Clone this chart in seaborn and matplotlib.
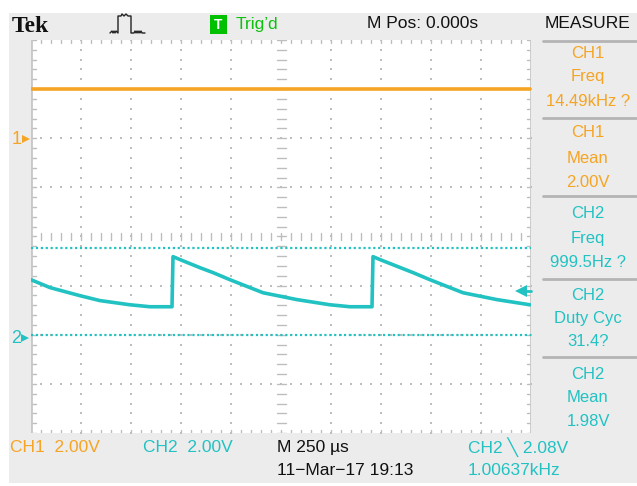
import matplotlib
matplotlib.use("Agg")
import matplotlib.pyplot as plt
import seaborn as sns
import numpy as np
import pandas as pd
from matplotlib.patches import Rectangle

# ---------------- data ----------------
time_per_div_us = 250.0
volts_per_div = 2.0
ch1_offset_div = 2.0
ch2_offset_div = -2.0

ch1_time_us = [-1250, 1250]
ch1_volts = [2.00, 2.00]

ch2_time_us = [-1250, -1155, -1005, -905, -755, -655, -545, -540, -505, -405, -340,
               -255, -90, 80, 245, 345, 455, 460, 495, 660, 745, 910, 1080, 1245]
ch2_volts = [2.24, 1.92, 1.59, 1.39, 1.22, 1.14, 1.14, 3.18, 3.06, 2.73, 2.53,
             2.24, 1.71, 1.43, 1.22, 1.14, 1.14, 3.18, 3.06, 2.53, 2.24, 1.71, 1.43, 1.22]

ch2_ref_levels_v = [0.0, 3.55]

measure_channels = ["CH1", "CH1", "CH2", "CH2", "CH2"]
measure_names = ["Freq", "Mean", "Freq", "Duty Cyc", "Mean"]
measure_values = ["14.49kHz ?", "2.00V", "999.5Hz ?", "31.4?", "1.98V"]

ORANGE = "#F6A423"
CYAN = "#22C2C3"
GRAY_BG = "#ECECEC"
GRID = "#BDBDBD"
SANS = ["Liberation Sans", "DejaVu Sans"]

# ---------------- figure ----------------
sns.set_theme(style="white")
plt.rcParams["font.family"] = SANS

W, H = 637, 486
fig = plt.figure(figsize=(W / 100, H / 100), dpi=100)
fig.patch.set_facecolor("white")

bg = fig.add_axes([0, 0, 1, 1], zorder=0)
bg.set_xlim(0, W)
bg.set_ylim(H, 0)
bg.axis("off")
bg.add_patch(Rectangle((9, 13), W - 9, 470, facecolor=GRAY_BG, edgecolor="none"))

# graticule axes
gx0, gx1, gy0, gy1 = 31, 531, 40, 433
ax = fig.add_axes([gx0 / W, (H - gy1) / H, (gx1 - gx0) / W, (gy1 - gy0) / H], zorder=2)
ax.set_facecolor("white")
ax.set_xlim(-5, 5)
ax.set_ylim(-4, 4)
for s in ax.spines.values():
    s.set_visible(False)
ax.set_xticks([])
ax.set_yticks([])

# dotted grid
minor_x = np.arange(-5, 5.001, 0.2)
minor_y = np.arange(-4, 4.001, 0.2)
for xv in range(-4, 5):
    if xv == 0:
        continue
    ax.plot([xv] * len(minor_y), minor_y, ls="none", marker="s", ms=1.6, color=GRID, mew=0)
for yv in range(-3, 4):
    if yv == 0:
        continue
    ax.plot(minor_x, [yv] * len(minor_x), ls="none", marker="s", ms=1.6, color=GRID, mew=0)
# center axes ticks
for xv in minor_x:
    ax.plot([xv, xv], [-0.07, 0.07], color=GRID, lw=1)
for yv in minor_y:
    ax.plot([-0.09, 0.09], [yv, yv], color=GRID, lw=1)
# edge ticks
for xv in minor_x:
    ax.plot([xv, xv], [4, 3.93], color=GRID, lw=1)
    ax.plot([xv, xv], [-4, -3.93], color=GRID, lw=1)
for yv in minor_y:
    ax.plot([-5, -4.91], [yv, yv], color=GRID, lw=1)
    ax.plot([5, 4.91], [yv, yv], color=GRID, lw=1)
ax.plot([-5, -5], [-4, 4], color="#C8C8C8", lw=2)
ax.plot([5, 5], [-4, 4], color="#C8C8C8", lw=2)

# reference dotted lines for CH2
for lv in ch2_ref_levels_v:
    yd = lv / volts_per_div + ch2_offset_div
    ax.plot([-5, 5], [yd, yd], color=CYAN, lw=1.6, ls=(0, (1, 1.2)))

# traces
df1 = pd.DataFrame({"x": np.array(ch1_time_us) / time_per_div_us,
                    "y": np.array(ch1_volts) / volts_per_div + ch1_offset_div})
df2 = pd.DataFrame({"x": np.array(ch2_time_us) / time_per_div_us,
                    "y": np.array(ch2_volts) / volts_per_div + ch2_offset_div})
sns.lineplot(data=df1, x="x", y="y", ax=ax, color=ORANGE, lw=2.6, sort=False, estimator=None)
sns.lineplot(data=df2, x="x", y="y", ax=ax, color=CYAN, lw=2.6, sort=False, estimator=None)
ax.set_xlabel("")
ax.set_ylabel("")
ax.set_xlim(-5, 5)
ax.set_ylim(-4, 4)

# trigger level arrow (right)
ax.plot([4.8, 5.0], [-1.1, -1.1], color=CYAN, lw=2, clip_on=False)
ax.plot([4.8], [-1.1], marker="<", ms=8, color=CYAN, mew=0, clip_on=False)

# trigger position arrow (top)
bg.plot([281, 281], [41, 48], color="black", lw=2.2, zorder=5)
bg.plot([281], [49], marker="v", ms=7, color="black", mew=0, zorder=5)

# channel markers
bg.text(17, 139, "1", color=ORANGE, fontsize=13, ha="center", va="center")
bg.plot([26], [139], marker=">", ms=6, color=ORANGE, mew=0)
bg.text(16, 338, "2", color=CYAN, fontsize=13, ha="center", va="center")
bg.plot([25], [338], marker=">", ms=6, color=CYAN, mew=0)

# header
bg.text(12, 26, "Tek", fontsize=17, fontweight="bold", family=["Liberation Serif", "DejaVu Serif"],
        ha="left", va="center", color="#111111")
px = [110, 112, 113, 114, 115, 116, 118, 118, 121, 122, 124, 126, 128, 131, 131, 134, 135, 136, 137, 138, 139, 140, 141, 142, 145]
py = [33, 31, 33, 31, 33, 31, 33, 16, 16, 14, 16, 14, 16, 16, 33, 33, 31, 33, 31, 33, 31, 33, 31, 33, 33]
bg.plot(px, py, color="#222222", lw=1)
bg.add_patch(Rectangle((210, 15), 17, 19, facecolor="#00C000", edgecolor="none"))
bg.text(218.5, 25, "T", color="white", fontsize=10, fontweight="bold", ha="center", va="center")
bg.text(236, 24, "Trig\u2019d", color="#10C010", fontsize=12.5, ha="left", va="center")
bg.text(423, 24, "M Pos: 0.000s", color="#111111", fontsize=12.5, ha="center", va="center")
bg.text(588, 24, "MEASURE", color="#111111", fontsize=12.5, ha="center", va="center")

# measure panel
seps = [41, 118, 196, 279, 357]
for sy in seps:
    bg.plot([543, 636], [sy, sy], color="#B4B4B4", lw=2)
rows = [(54, 77, 101), (132, 158, 182), (213, 238, 262), (295, 318, 341), (374, 397, 421)]
for ch, nm, val, (y1, y2, y3) in zip(measure_channels, measure_names, measure_values, rows):
    c = ORANGE if ch == "CH1" else CYAN
    bg.text(588, y1, ch, color=c, fontsize=12, ha="center", va="center")
    bg.text(588, y2, nm, color=c, fontsize=12, ha="center", va="center")
    bg.text(588, y3, val, color=c, fontsize=12, ha="center", va="center")

# bottom info
bg.text(10, 447, "CH1  2.00V", color=ORANGE, fontsize=12.5, ha="left", va="center")
bg.text(143, 447, "CH2  2.00V", color=CYAN, fontsize=12.5, ha="left", va="center")
bg.text(277, 447, "M 250 \u00b5s", color="#111111", fontsize=12.5, ha="left", va="center")
bg.text(277, 470, "11\u2212Mar\u221217 19:13", color="#111111", fontsize=12.5, ha="left", va="center")
bg.text(468, 447, "CH2 \u2572 2.08V", color=CYAN, fontsize=12.5, ha="left", va="center")
bg.text(468, 470, "1.00637kHz", color=CYAN, fontsize=12.5, ha="left", va="center")

fig.savefig("out.png", dpi=100)
